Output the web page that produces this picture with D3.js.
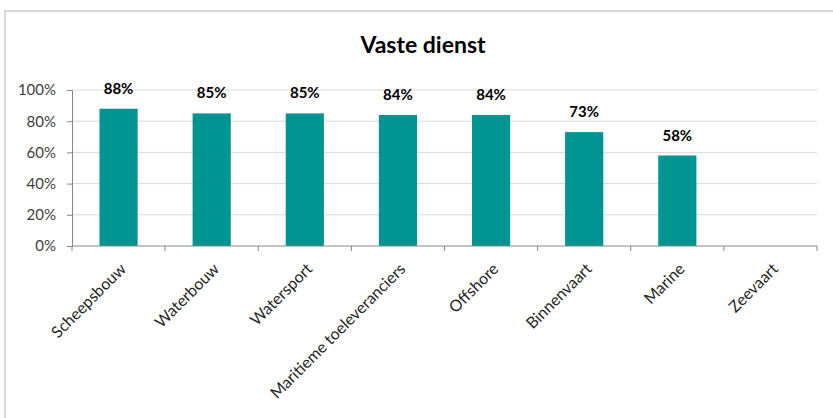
<!DOCTYPE html>
<html>
<head>
<meta charset="utf-8">
<script src="https://cdn.jsdelivr.net/npm/d3@7"></script>
<style>
  html, body { margin: 0; padding: 0; background: #fff; }
  svg { display: block; font-family: Lato, "Open Sans", sans-serif; }
</style>
</head>
<body>
<svg id="chart" width="833" height="418"></svg>
<script>
// Share of employees with a permanent contract, per maritime sector
const categories = ["Scheepsbouw", "Waterbouw", "Watersport", "Maritieme toeleveranciers",
                    "Offshore", "Binnenvaart", "Marine", "Zeevaart"];
const values = [88, 85, 85, 84, 84, 73, 58, null];
const yTicks = [0, 20, 40, 60, 80, 100];
const title = "Vaste dienst";

const svg = d3.select("#chart");
const W = 833, H = 418;

// outer frame
svg.append("rect")
  .attr("x", 5).attr("y", 11)
  .attr("width", W + 10).attr("height", H)
  .attr("fill", "#fff")
  .attr("stroke", "#d9d9d9").attr("stroke-width", 2);

const plot = { left: 72, right: 817, top: 90, bottom: 246 };

const x = d3.scaleBand()
  .domain(categories)
  .range([plot.left, plot.right])
  .paddingInner(0.59).paddingOuter(0.295);

const y = d3.scaleLinear().domain([0, 100]).range([plot.bottom, plot.top]);

// gridlines
svg.append("g")
  .selectAll("line")
  .data(yTicks.filter(d => d > 0))
  .join("line")
  .attr("x1", plot.left).attr("x2", plot.right)
  .attr("y1", d => y(d)).attr("y2", d => y(d))
  .attr("stroke", "#d9d9d9").attr("stroke-width", 1);

// y axis
const yAxis = svg.append("g")
  .attr("transform", `translate(${plot.left},0)`)
  .call(d3.axisLeft(y).tickValues(yTicks).tickFormat(d => d + "%").tickSize(5).tickPadding(11));
yAxis.select(".domain").attr("stroke", "#868686");
yAxis.selectAll(".tick line").attr("stroke", "#868686");
yAxis.selectAll("text")
  .attr("font-size", 15).attr("fill", "#404040")
  .attr("font-family", "Lato, sans-serif");

// bars
svg.append("g")
  .selectAll("rect")
  .data(categories.map((c, i) => ({ c, v: values[i] })).filter(d => d.v != null))
  .join("rect")
  .attr("x", d => x(d.c))
  .attr("width", x.bandwidth())
  .attr("y", d => y(d.v))
  .attr("height", d => y(0) - y(d.v))
  .attr("fill", "#009593");

// value labels
svg.append("g")
  .selectAll("text")
  .data(categories.map((c, i) => ({ c, v: values[i] })).filter(d => d.v != null))
  .join("text")
  .attr("x", d => x(d.c) + x.bandwidth() / 2)
  .attr("y", d => y(d.v) - 15)
  .attr("text-anchor", "middle")
  .attr("font-size", 15).attr("font-weight", "bold")
  .attr("fill", "#000")
  .text(d => d.v + "%");

// x axis with ticks at category boundaries
const xg = svg.append("g").attr("transform", `translate(0,${plot.bottom})`);
xg.append("line")
  .attr("x1", plot.left).attr("x2", plot.right)
  .attr("stroke", "#868686");
const step = x.step();
xg.selectAll("line.tk")
  .data(d3.range(categories.length + 1))
  .join("line").attr("class", "tk")
  .attr("x1", i => plot.left + i * step).attr("x2", i => plot.left + i * step)
  .attr("y1", 0).attr("y2", 5)
  .attr("stroke", "#868686");
xg.selectAll("text")
  .data(categories)
  .join("text")
  .attr("transform", d => `translate(${x(d) + x.bandwidth() / 2 + 8.5},${24}) rotate(-45)`)
  .attr("text-anchor", "end")
  .attr("font-size", 16).attr("fill", "#262626")
  .text(d => d);

// title
svg.append("text")
  .attr("x", 423).attr("y", 53)
  .attr("text-anchor", "middle")
  .attr("font-size", 23).attr("font-weight", "bold")
  .attr("fill", "#000")
  .text(title);
</script>
</body>
</html>
